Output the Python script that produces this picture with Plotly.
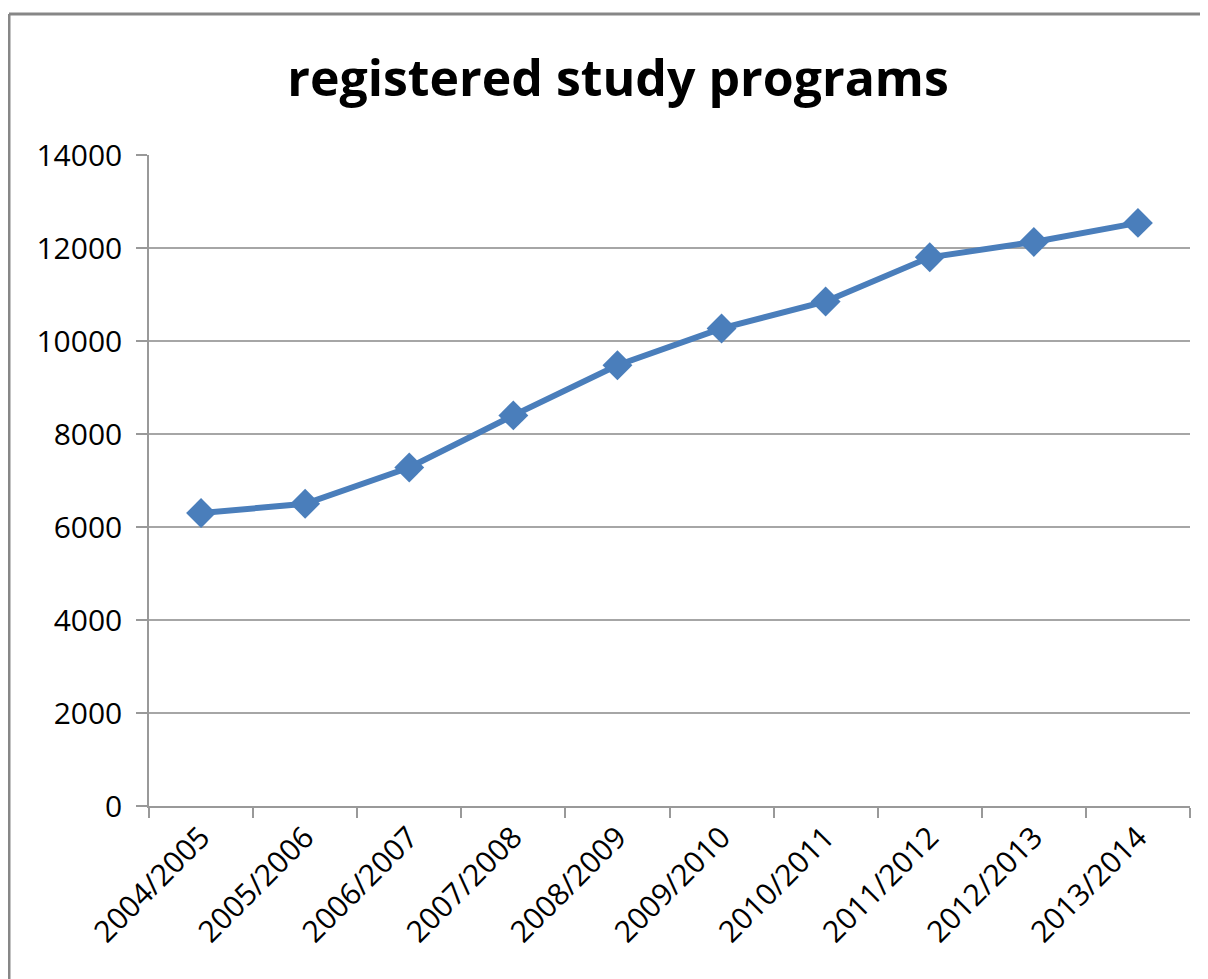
import plotly.graph_objects as go

categories = ["2004/2005", "2005/2006", "2006/2007", "2007/2008", "2008/2009",
              "2009/2010", "2010/2011", "2011/2012", "2012/2013", "2013/2014"]
programs = [6300, 6500, 7280, 8400, 9480, 10270, 10850, 11800, 12130, 12540]
y_ticks = [0, 2000, 4000, 6000, 8000, 10000, 12000, 14000]

# page offset of the plotly div (body margin)
OFF = 8
L, R, T, B = 149, 1190, 155, 806
PW, PH = R - L, B - T

fig = go.Figure()
fig.add_trace(go.Scatter(
    x=categories, y=programs, mode="lines+markers",
    line=dict(color="#4A7EBB", width=6),
    marker=dict(symbol="diamond", size=23, color="#4A7EBB"),
    showlegend=False,
))

fig.update_layout(
    width=1208, height=979,
    margin=dict(l=L - OFF, r=1208 - (R - OFF), t=T - OFF, b=979 - (B - OFF)),
    paper_bgcolor="white", plot_bgcolor="white",
    font=dict(family="Open Sans", color="black"),
    title=dict(text="<b>registered study programs</b>", x=(618 - OFF) / 1208, xanchor="center",
               xref="container", y=1 - (78 - OFF) / 979, yanchor="middle", yref="container",
               font=dict(family="Open Sans", size=50, color="black")),
    shapes=[
        dict(type="line", xref="paper", yref="paper", x0=(9 - L) / PW, x1=(1230 - L) / PW,
             y0=(B - 14) / PH, y1=(B - 14) / PH, line=dict(color="#878787", width=3)),
        dict(type="line", xref="paper", yref="paper", x0=(9 - L) / PW, x1=(9 - L) / PW,
             y0=(B - 14) / PH, y1=(B - 1000) / PH, line=dict(color="#878787", width=3)),
    ],
)

fig.update_xaxes(
    type="category", tickangle=-45, tickson="boundaries",
    ticks="outside", ticklen=10, tickcolor="#999999", tickwidth=1.5,
    showline=True, linecolor="#999999", linewidth=1.5,
    showgrid=False, tickfont=dict(size=30, color="black"),
    range=[-0.5, 9.5],
)
fig.update_yaxes(
    range=[0, 14000], tickvals=y_ticks, tickformat="d",
    ticks="outside", ticklen=11, tickcolor="#999999", tickwidth=1.5,
    showline=True, linecolor="#999999", linewidth=1.5,
    showgrid=True, gridcolor="#A6A6A6", gridwidth=1.5, zeroline=False,
    tickfont=dict(size=30, color="black"), ticklabelstandoff=8,
)

fig.write_html("out.html")
